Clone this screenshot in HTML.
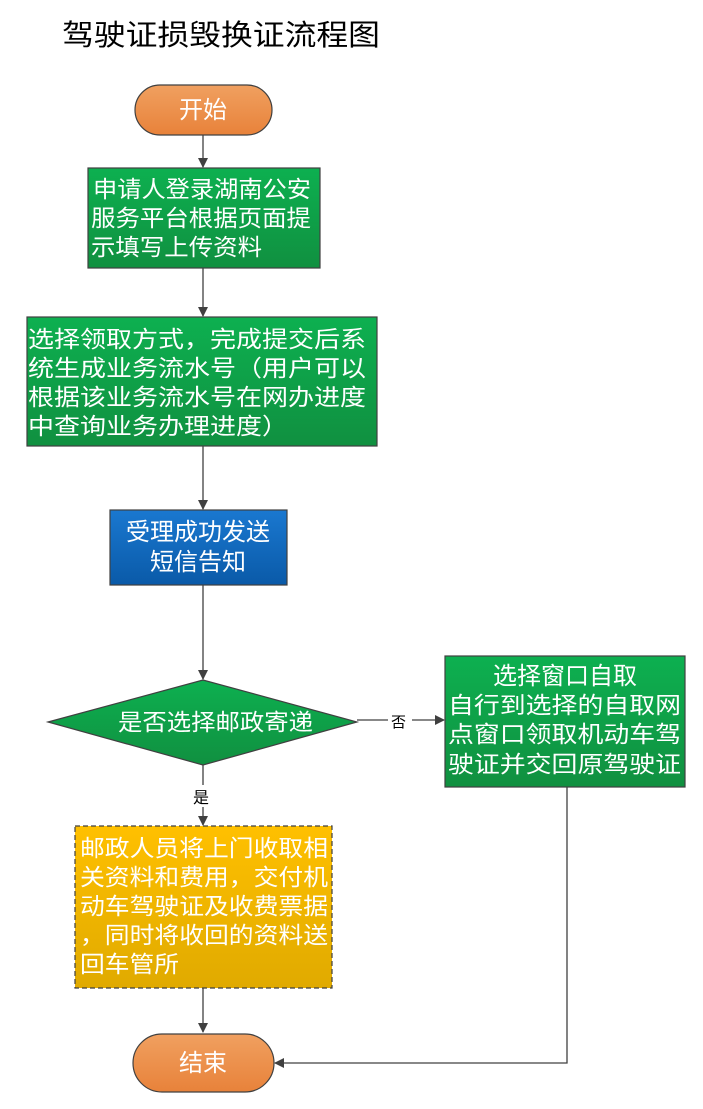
<!DOCTYPE html>
<html><head><meta charset="utf-8"><style>
body{margin:0;background:#fff;width:703px;height:1104px;overflow:hidden}
svg text{font-family:"Liberation Sans","Noto Sans CJK SC",sans-serif;fill:#fff;font-size:23px}
</style></head><body>
<svg width="703" height="1104" viewBox="0 0 703 1104" xmlns="http://www.w3.org/2000/svg">
<defs>
<linearGradient id="o" x1="0" y1="0" x2="0" y2="1"><stop offset="0" stop-color="#f0a060"/><stop offset="1" stop-color="#e8823a"/></linearGradient>
<linearGradient id="g" x1="0" y1="0" x2="0" y2="1"><stop offset="0" stop-color="#0db050"/><stop offset="1" stop-color="#109040"/></linearGradient>
<linearGradient id="b" x1="0" y1="0" x2="0" y2="1"><stop offset="0" stop-color="#1a78d0"/><stop offset="1" stop-color="#0a5aa8"/></linearGradient>
<linearGradient id="y" x1="0" y1="0" x2="0" y2="1"><stop offset="0" stop-color="#ffc000"/><stop offset="1" stop-color="#e0aa00"/></linearGradient>
<marker id="a" markerWidth="10" markerHeight="10" refX="9" refY="5" orient="auto" markerUnits="userSpaceOnUse"><path d="M0,0 L10,5 L0,10 z" fill="#404040"/></marker>
</defs>
<text x="62" y="45" textLength="318" lengthAdjust="spacingAndGlyphs" style="fill:#000;font-size:29px">驾驶证损毁换证流程图</text>
<g stroke="#404040" stroke-width="1.3" fill="none">
<line x1="203" y1="135" x2="203" y2="167" marker-end="url(#a)"/>
<line x1="203" y1="268" x2="203" y2="316" marker-end="url(#a)"/>
<line x1="203" y1="446" x2="203" y2="509" marker-end="url(#a)"/>
<line x1="203" y1="585" x2="203" y2="679" marker-end="url(#a)"/>
<line x1="357" y1="720" x2="444" y2="720" marker-end="url(#a)"/>
<line x1="203" y1="765" x2="203" y2="825" marker-end="url(#a)"/>
<line x1="203" y1="988" x2="203" y2="1032" marker-end="url(#a)"/>
<polyline points="567,787 567,1063 275,1063" marker-end="url(#a)"/>
</g>
<rect x="388" y="710" width="24" height="20" fill="#fff"/>
<text x="391" y="727" style="fill:#000;font-size:15px">否</text>
<rect x="192" y="785" width="22" height="22" fill="#fff"/>
<text x="193" y="803" style="fill:#000;font-size:16px">是</text>
<rect x="135" y="85" width="137" height="50" rx="25" fill="url(#o)" stroke="#404040" stroke-width="1.2"/>
<text x="203" y="118" text-anchor="middle" style="font-size:24px">开始</text>
<rect x="88" y="168" width="232" height="100" fill="url(#g)" stroke="#404040" stroke-width="1.2"/>
<text x="93" y="197" textLength="218" lengthAdjust="spacingAndGlyphs">申请人登录湖南公安</text>
<text x="91" y="226" textLength="220" lengthAdjust="spacingAndGlyphs">服务平台根据页面提</text>
<text x="91" y="255" textLength="171" lengthAdjust="spacingAndGlyphs">示填写上传资料</text>
<rect x="27" y="317" width="350" height="129" fill="url(#g)" stroke="#404040" stroke-width="1.2"/>
<text x="28" y="347" textLength="338" lengthAdjust="spacingAndGlyphs">选择领取方式，完成提交后系</text>
<text x="28" y="376" textLength="338" lengthAdjust="spacingAndGlyphs">统生成业务流水号（用户可以</text>
<text x="28" y="405" textLength="338" lengthAdjust="spacingAndGlyphs">根据该业务流水号在网办进度</text>
<text x="28" y="434" textLength="260" lengthAdjust="spacingAndGlyphs">中查询业务办理进度）</text>
<rect x="110" y="510" width="177" height="75" fill="url(#b)" stroke="#404040" stroke-width="1.2"/>
<text x="198" y="540" text-anchor="middle" style="font-size:24px">受理成功发送</text>
<text x="198" y="570" text-anchor="middle" style="font-size:24px">短信告知</text>
<polygon points="48,722 203,680 357,722 203,765" fill="url(#g)" stroke="#404040" stroke-width="1.2"/>
<text x="118" y="730" textLength="195" lengthAdjust="spacingAndGlyphs">是否选择邮政寄递</text>
<rect x="445" y="656" width="240" height="131" fill="url(#g)" stroke="#404040" stroke-width="1.2"/>
<text x="565" y="684" text-anchor="middle" style="font-size:24px">选择窗口自取</text>
<text x="448" y="713" textLength="233" lengthAdjust="spacingAndGlyphs">自行到选择的自取网</text>
<text x="448" y="742" textLength="233" lengthAdjust="spacingAndGlyphs">点窗口领取机动车驾</text>
<text x="448" y="772" textLength="233" lengthAdjust="spacingAndGlyphs">驶证并交回原驾驶证</text>
<rect x="75" y="826" width="257" height="162" fill="url(#y)" stroke="#404040" stroke-width="1.2" stroke-dasharray="5,3"/>
<text x="80" y="856" textLength="248" lengthAdjust="spacingAndGlyphs">邮政人员将上门收取相</text>
<text x="80" y="885" textLength="248" lengthAdjust="spacingAndGlyphs">关资料和费用，交付机</text>
<text x="80" y="914" textLength="248" lengthAdjust="spacingAndGlyphs">动车驾驶证及收费票据</text>
<text x="80" y="943" textLength="248" lengthAdjust="spacingAndGlyphs">，同时将收回的资料送</text>
<text x="80" y="972" textLength="99" lengthAdjust="spacingAndGlyphs">回车管所</text>
<rect x="133" y="1034" width="141" height="58" rx="29" fill="url(#o)" stroke="#404040" stroke-width="1.2"/>
<text x="203" y="1071" text-anchor="middle" style="font-size:24px">结束</text>
</svg>
</body></html>
